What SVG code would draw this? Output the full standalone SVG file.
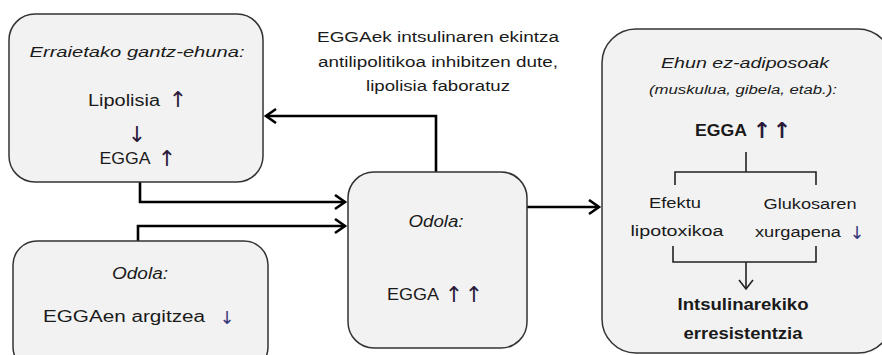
<svg xmlns="http://www.w3.org/2000/svg" width="882" height="355" viewBox="0 0 882 355">
<defs>
<style>
.box{fill:#f2f2f2;stroke:#333;stroke-width:1.5}
.conn{fill:none;stroke:#000;stroke-width:2.6}
.thin{fill:none;stroke:#222;stroke-width:1.6}
text{font-family:"Liberation Sans",Arial,sans-serif;fill:#1a1a1a;text-anchor:middle}
.it{font-style:italic}
.b{font-weight:bold}
.ar{font-family:"DejaVu Sans",sans-serif;fill:#2a1a3a}
</style>
<marker id="ah" markerUnits="userSpaceOnUse" markerWidth="14" markerHeight="18" refX="11" refY="8" orient="auto">
<path d="M1,1 L11,8 L1,15" fill="none" stroke="#000" stroke-width="2.6"/>
</marker>
</defs>

<g id="connectors">
<path class="conn" d="M436,172 V116 H266" marker-end="url(#ah)"/>
<path class="conn" d="M140,182 V202 H345" marker-end="url(#ah)"/>
<path class="conn" d="M138,241 V226 H345" marker-end="url(#ah)"/>
<path class="conn" d="M527,207 H599" marker-end="url(#ah)"/>
</g>

<g id="note">
<text x="438" y="42" font-size="14" textLength="242" lengthAdjust="spacingAndGlyphs">EGGAek intsulinaren ekintza</text>
<text x="438" y="67" font-size="14" textLength="240" lengthAdjust="spacingAndGlyphs">antilipolitikoa inhibitzen dute,</text>
<text x="438" y="91" font-size="14" textLength="144" lengthAdjust="spacingAndGlyphs">lipolisia faboratuz</text>
</g>

<g id="node-erraietako">
<rect class="box" x="9" y="14" width="254" height="168" rx="26"/>
<text class="it" x="137" y="57" font-size="15" textLength="215" lengthAdjust="spacingAndGlyphs">Erraietako gantz-ehuna:</text>
<text x="124" y="106" font-size="16" textLength="72" lengthAdjust="spacingAndGlyphs">Lipolisia</text>
<text class="ar" x="178" y="107" font-size="22">↑</text>
<text class="ar" x="137" y="142" font-size="22">↓</text>
<text x="125" y="164" font-size="16" textLength="51" lengthAdjust="spacingAndGlyphs">EGGA</text>
<text class="ar" x="167" y="166" font-size="22">↑</text>
</g>

<g id="node-odola-left">
<rect class="box" x="13" y="241" width="255" height="130" rx="24"/>
<text class="it" x="140" y="279" font-size="16" textLength="56" lengthAdjust="spacingAndGlyphs">Odola:</text>
<text x="124" y="322" font-size="16" textLength="162" lengthAdjust="spacingAndGlyphs">EGGAen argitzea</text>
<text class="ar" x="227" y="324" font-size="18" style="fill:#3a3a7a">↓</text>
</g>

<g id="node-odola-center">
<rect class="box" x="348" y="172" width="179" height="176" rx="26"/>
<text class="it" x="436" y="227" font-size="16" textLength="55" lengthAdjust="spacingAndGlyphs">Odola:</text>
<text x="413" y="300" font-size="16" textLength="52" lengthAdjust="spacingAndGlyphs">EGGA</text>
<text class="ar" x="454" y="302" font-size="22">↑</text>
<text class="ar" x="474" y="302" font-size="22">↑</text>
</g>

<g id="node-ehun">
<rect class="box" x="602" y="29" width="290" height="324" rx="34"/>
<text class="it" x="745" y="68" font-size="15" textLength="168" lengthAdjust="spacingAndGlyphs">Ehun ez-adiposoak</text>
<text class="it" x="743" y="94" font-size="12" textLength="188" lengthAdjust="spacingAndGlyphs">(muskulua, gibela, etab.):</text>
<text class="b" x="721" y="136" font-size="17" textLength="52" lengthAdjust="spacingAndGlyphs">EGGA</text>
<text class="ar b" x="762" y="138" font-size="22">↑</text>
<text class="ar b" x="782" y="138" font-size="22">↑</text>
<path class="thin" d="M746,152 V172 M675,185 V172 H816 V185"/>
<text x="675" y="208" font-size="14" textLength="52" lengthAdjust="spacingAndGlyphs">Efektu</text>
<text x="677" y="236" font-size="14" textLength="93" lengthAdjust="spacingAndGlyphs">lipotoxikoa</text>
<text x="810" y="209" font-size="14" textLength="93" lengthAdjust="spacingAndGlyphs">Glukosaren</text>
<text x="798" y="237" font-size="14" textLength="86" lengthAdjust="spacingAndGlyphs">xurgapena</text>
<text class="ar" x="857" y="239" font-size="18" style="fill:#3a3a7a">↓</text>
<path class="thin" d="M673,246 V262 H816 V246 M746,262 V288"/>
<path class="thin" d="M739,280 L746,289 L753,280"/>
<text class="b" x="743" y="310" font-size="17" textLength="131" lengthAdjust="spacingAndGlyphs">Intsulinarekiko</text>
<text class="b" x="743" y="339" font-size="17" textLength="119" lengthAdjust="spacingAndGlyphs">erresistentzia</text>
</g>
</svg>
